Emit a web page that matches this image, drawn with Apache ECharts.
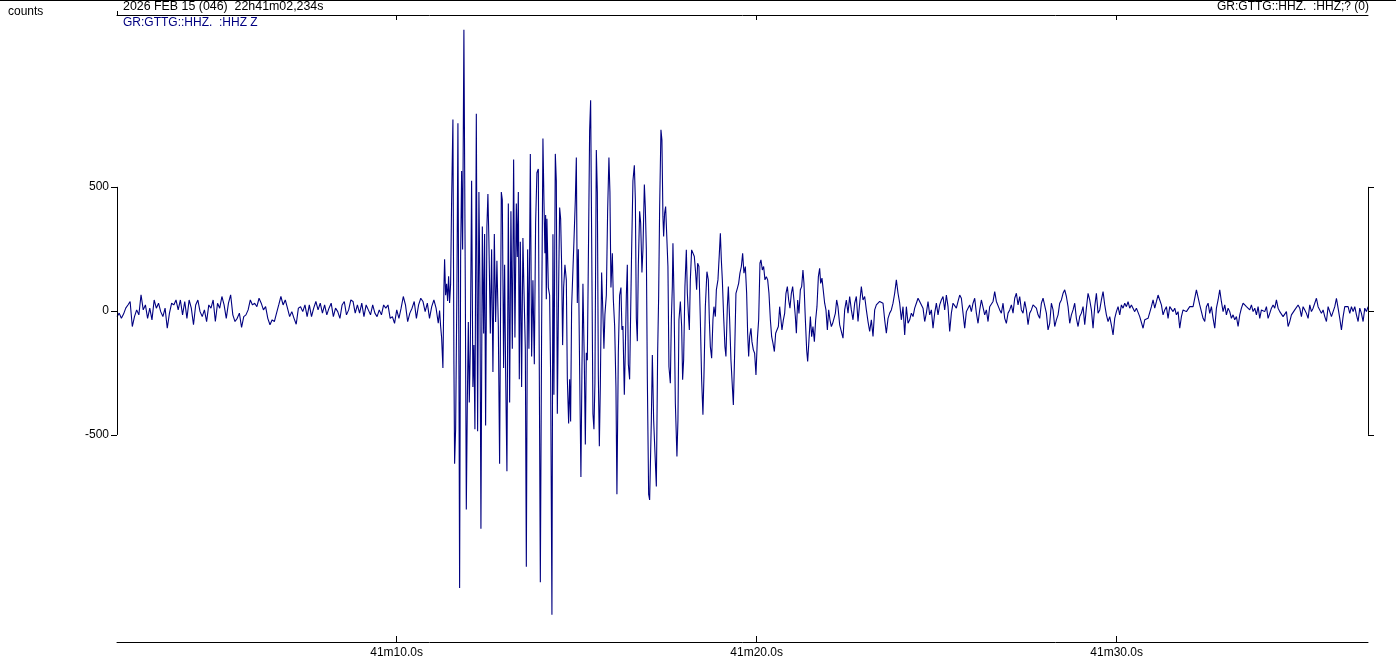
<!DOCTYPE html>
<html>
<head>
<meta charset="utf-8">
<title>GR:GTTG HHZ</title>
<script src="https://cdn.jsdelivr.net/npm/echarts@6/dist/echarts.min.js"></script>
<style>
  html, body { margin: 0; padding: 0; background: #fff; }
  #trace { width: 1396px; height: 662px; }
</style>
</head>
<body>
<div id="trace"></div>
<script>
// time in seconds after 22h41m00s, amplitude in counts

// pre-event noise, evenly sampled
const preStart = 2.234;
const preStep = 0.0607;
const preCounts = [
  -23, -9, -30, -13, 11, 24, 38, -63, -23, 4,
  -16, 65, 4, 24, -30, 11, -36, 44, 11, 31,
  -3, -23, 11, -70, -9, 31, 24, 44, 4, 44,
  -16, 38, -30, 44, 11, -56, 24, 44, -3, -23,
  4, -43, 24, 11, 44, -43, 31, 11, 58, 24,
  -30, 31, 65, -16, -43, -30, -9, -67, -23, -16,
  4, 44, 24, 31, 17, 51, 31, 4, 17, -30,
  -56, -36, -43, -9, 24, 58, 24, 44, 11, -23,
  -3, -30, -54, 11, 17, -3, 24, -23, 24, -23,
  11, 38, 4, 31, -9, 24, -16, 11, 31, -23,
  11, -3, -30, 24, 38, -16, 4, 44, 38, -9,
  24, -9, 31, -23, 24, 4, -16, 24, -9, -23,
  4, -16, 24, 11, 24, -30, -23, -50, 4, -30,
  11, 58, 24, -43, -9, 11, 38, -30, 24, 51,
  38, -3, 31, -30, 17, 44, 11, -50
];

// the event, peak by peak [time, counts]
const eventPoints = [
  [11.194,1],[11.222,-61],[11.250,-107],[11.286,-230],[11.314,94],[11.333,208],[11.361,63],[11.389,109],[11.417,40],[11.444,140],
  [11.472,32],[11.500,109],[11.528,448],[11.564,772],[11.592,-215],[11.611,-616],[11.639,-477],[11.675,94],[11.703,757],[11.731,-215],
  [11.750,-1117],[11.778,217],[11.806,564],[11.833,248],[11.869,1134],[11.908,94],[11.936,-801],[11.964,-369],[11.992,-45],[12.019,-369],
  [12.047,-153],[12.083,525],[12.119,-307],[12.147,-138],[12.175,-477],[12.214,795],[12.250,-485],[12.286,479],[12.314,94],[12.342,-878],
  [12.381,340],[12.417,-91],[12.444,310],[12.472,-462],[12.508,340],[12.536,471],[12.564,279],[12.603,-91],[12.639,248],[12.675,-246],
  [12.714,310],[12.750,-45],[12.786,202],[12.825,-61],[12.861,-616],[12.908,479],[12.936,448],[12.972,-230],[13.000,186],[13.028,-246],
  [13.064,-647],[13.103,433],[13.139,-369],[13.175,402],[13.214,-153],[13.250,610],[13.286,-107],[13.325,433],[13.353,217],[13.381,479],
  [13.408,-276],[13.436,279],[13.472,-307],[13.508,294],[13.536,94],[13.575,-153],[13.603,-1032],[13.639,248],[13.675,-153],[13.714,633],
  [13.750,-184],[13.786,124],[13.825,-215],[13.861,356],[13.897,557],[13.936,572],
  [13.992,-1094],[14.028,-61],[14.064,695],[14.092,448],[14.119,232],[14.139,387],[14.158,47],[14.175,371],[14.214,94],[14.250,63],
  [14.278,-261],[14.314,-1225],[14.342,309],[14.369,-338],[14.408,633],[14.436,525],[14.464,-415],[14.500,94],[14.528,417],[14.556,371],
  [14.583,186],[14.611,-138],[14.639,94],[14.675,186],[14.714,124],[14.742,-276],[14.778,-454],[14.806,-276],[14.833,-446],[14.861,17],
  [14.889,24],[14.925,279],[14.964,448],[14.992,618],[15.019,32],[15.047,248],[15.083,-230],[15.119,-670],[15.147,-246],[15.175,109],
  [15.214,-215],[15.242,-539],[15.269,-169],[15.297,-199],[15.333,310],[15.361,726],[15.389,849],[15.425,140],[15.453,-415],[15.481,-477],
  [15.508,-292],[15.547,649],[15.575,479],[15.603,-261],[15.631,-546],[15.658,-307],[15.694,155],[15.731,-14],[15.758,-153],[15.786,-14],
  [15.825,63],[15.861,402],[15.897,618],[15.925,479],[15.953,94],[15.992,232],[16.019,47],[16.056,-61],[16.092,-307],[16.119,-739],
  [16.158,-169],[16.194,63],[16.231,94],[16.258,-76],[16.286,-61],[16.325,-338],[16.353,-153],[16.381,63],[16.408,186],[16.436,-215],
  [16.472,-276],[16.500,-14],[16.528,248],[16.564,525],[16.603,587],[16.631,448],[16.658,-30],[16.686,-122],[16.714,186],[16.750,402],
  [16.778,356],[16.814,155],[16.842,248],[16.881,510],[16.908,417],[16.936,248],[16.964,-276],[17.000,-739],
  [17.028,-762],[17.075,-440],[17.103,-178],[17.139,-440],[17.175,-440],[17.214,-708],[17.250,-171],[17.278,58],[17.306,421],[17.342,730],
  [17.369,689],[17.397,380],[17.417,300],[17.444,394],[17.472,421],[17.508,427],[17.536,179],[17.564,-225],[17.603,-292],[17.631,-36],
  [17.658,98],[17.675,273],[17.703,71],[17.742,-372],[17.786,-587],[17.814,-440],[17.842,-36],[17.881,38],[17.917,-63],[17.944,-278],
  [17.972,-198],[18.008,98],[18.047,246],[18.075,71],[18.103,-10],[18.131,-77],[18.158,125],[18.194,246],[18.231,253],[18.269,219],
  [18.306,152],[18.333,85],[18.361,192],[18.397,179],[18.436,-36],[18.472,-278],[18.508,-419],[18.536,-265],[18.575,17],[18.619,158],
  [18.658,125],[18.686,-36],[18.714,-144],[18.750,-191],[18.786,-36],[18.814,17],[18.853,-23],[18.881,85],[18.925,125],[18.964,232],
  [18.992,313],[19.019,206],[19.047,125],[19.083,-23],[19.119,-144],[19.147,-184],[19.186,17],[19.214,98],[19.250,-36],[19.286,-198],
  [19.325,-305],[19.353,-379],[19.389,-171],[19.425,71],[19.464,91],[19.500,111],[19.536,152],[19.575,179],[19.611,232],[19.647,152],
  [19.686,179],[19.722,71],[19.750,-90],[19.778,-184],[19.806,-104],[19.842,-70],[19.869,-124],[19.908,-157],[19.944,-171],[19.981,-258],
  [20.019,-117],[20.056,-36],[20.092,192],[20.119,206],[20.158,165],[20.194,179],[20.231,125],[20.269,138],[20.306,125],[20.342,71],
  [20.381,-36],[20.417,-104],[20.453,-130],[20.492,-164],[20.528,-90],[20.564,-97],[20.603,-63],[20.639,17],[20.667,24],[20.703,-77],
  [20.742,-36],[20.778,-10],[20.814,71],[20.853,98],[20.889,44],[20.925,11],[20.964,71],[21.000,98],[21.036,44],[21.075,-23],
  [21.103,-90],[21.139,44],[21.175,-10],[21.214,85],[21.250,98],[21.286,165],[21.314,111],[21.353,-36],[21.389,-157],[21.417,-204],
  [21.453,-117],[21.492,-23],[21.528,-104],[21.564,-63],[21.603,-124],[21.639,-36],[21.675,17],[21.714,138],[21.750,172],[21.778,111],
  [21.814,132],[21.853,138],[21.889,31],[21.925,4],[21.964,-77],[22.000,4],[22.036,-36],[22.075,-63],[22.111,-50],[22.147,-50],
  [22.186,-10],[22.222,44],[22.258,17]
];

// coda noise, evenly sampled
const codaStart = 22.306;
const codaStep = 0.0463;
const codaCounts = [
  -56, -63, -110, 4, 44, -9, 58,
  4, -36, 31, 58, -43, 31, 98, 44, 58, 4,
  -43, -83, -36, -103, 4, 24, 31, 38, 44, 31,
  -36, -90, -30, -9, 4, 31, 71, 125, 71, 31,
  -36, 17, -97, 17, -50, -36, -9, -23, 11, 31,
  51, 38, 31, 11, -43, -9, 38, -16, 4, -70,
  -9, 31, -16, 24, 44, 58, 4, 64, 17, -83,
  -9, 31, 24, 11, 38, 64, 51, -9, -70, -3,
  11, 24, -3, 31, 51, -9, -50, 4, 44, 51,
  -16, 4, -43, 17, 11, 38, 78, 38, 44, 4,
  -9, 31, -30, -50, -9, 4, 24, -9, 51, 71,
  24, 58, 4, -9, 38, 4, -56, -9, 4, 24,
  31, 11, -16, -30, 31, 51, 58, -9, -77, -50,
  31, 4, -63, -36, -16, 31, 44, 71, 85, 58,
  17, -50, -16, 4, 31, -30, -63, -23, -9, 17,
  -56, 11, 71, 44, 4, -70, 17, 71, -9, 4,
  44, 78, 24, -16, -43, -23, -57, -97, -30,
  -3, 17, -16, 24, 11, 31, 17, 37, 11, 24,
  17, -3, 11, 4, -23, -30, -70, -36, -43, -30,
  -23, 17, 44, 11, 37, 64, 44, 24, -16, 4,
  17, -30, 17, 24, -3, 11, -16, -3, -70, -23,
  4, 11, -3, 4, 17, 11, 17, 11, 85, 78,
  24, -3, -30, -43, 17, 31, -10, 17, -30, -70,
  11, 44, 85, 37, -3, 24, -16, 11, -3, -30,
  -16, -36, -23, -63, -16, 11, 31, 37, 17, 24,
  4, 24, -3, 11, -16, 17, -30, 4, 11, -3,
  17, -30, -10, 11, 24, 11, 44, 11, -3, 4,
  -23, -30, -3, -63, -43, -16, -23, 4, 11, 24,
  11, -23, 17, 4, -10, -30, 24, -3, 11, 17,
  51, 17, 11, -10, 4, -23, -43, 17, 11, -23,
  -3, 17, 51, 11, -30, -77, -23, 17, 11, 17,
  -10, 17, -3, 17, -16, -43, 11, -10, -43, 11,
  -3, 17
];

const timeTicks = [10, 20, 30];
const countTicks = [-500, 0, 500];
const timeMin = 2.234;
const timeMax = 36.98;
const countMin = -1335;
const countMax = 1193;

const trace = [];
preCounts.forEach((c, i) => trace.push([preStart + i * preStep, c]));
eventPoints.forEach(p => trace.push(p));
codaCounts.forEach((c, i) => trace.push([codaStart + i * codaStep, c]));

const font = '"Liberation Sans", Arial, sans-serif';
const ink = '#000';

const chart = echarts.init(document.getElementById('trace'));
chart.setOption({
  animation: false,
  backgroundColor: '#fff',
  grid: { left: 117, right: 28, top: 15, bottom: 20 },
  xAxis: [
    {
      type: 'value', position: 'bottom', min: timeMin, max: timeMax,
      splitLine: { show: false },
      axisLine: { onZero: false, lineStyle: { color: ink, width: 1 } },
      axisTick: { inside: true, length: 6, customValues: timeTicks, lineStyle: { color: ink } },
      axisLabel: {
        customValues: timeTicks, margin: 5, color: ink, fontSize: 12, fontFamily: font,
        formatter: v => '41m' + v.toFixed(1) + 's'
      }
    },
    {
      type: 'value', position: 'top', min: timeMin, max: timeMax,
      splitLine: { show: false },
      axisLine: { onZero: false, lineStyle: { color: ink, width: 1 } },
      axisTick: { inside: true, length: 5, customValues: timeTicks, lineStyle: { color: ink } },
      axisLabel: { show: false }
    }
  ],
  yAxis: [
    {
      type: 'value', position: 'left', min: countMin, max: countMax,
      splitLine: { show: false },
      axisLine: { show: false, onZero: false },
      axisTick: { show: true, length: 6, customValues: countTicks, lineStyle: { color: ink } },
      axisLabel: { customValues: countTicks, margin: 8, color: ink, fontSize: 12, fontFamily: font }
    },
    {
      type: 'value', position: 'right', min: countMin, max: countMax,
      splitLine: { show: false },
      axisLine: { show: false, onZero: false },
      axisTick: { show: true, length: 6, customValues: countTicks, lineStyle: { color: ink } },
      axisLabel: { show: false }
    }
  ],
  series: [
    {
      type: 'line',
      data: trace,
      symbol: 'none',
      sampling: null,
      clip: false,
      lineStyle: { color: '#000080', width: 1.1 },
      emphasis: { disabled: true },
      markLine: {
        silent: true,
        animation: false,
        symbol: ['none', 'none'],
        label: { show: false },
        emphasis: { disabled: true },
        lineStyle: { color: ink, width: 1, type: 'solid' },
        data: [
          [{ coord: [timeMin, countTicks[0]] }, { coord: [timeMin, countTicks[2]] }],
          [{ coord: [timeMax, countTicks[0]] }, { coord: [timeMax, countTicks[2]] }]
        ]
      }
    }
  ],
  graphic: [
    { type: 'line', silent: true, shape: { x1: 0, y1: 0.5, x2: 1396, y2: 0.5 }, style: { stroke: ink, lineWidth: 1 } },
    { type: 'line', silent: true, shape: { x1: 117.5, y1: 11, x2: 117.5, y2: 15 }, style: { stroke: ink, lineWidth: 1 } },
    { type: 'text', left: 8, top: 6, style: { text: 'counts', fill: ink, font: '12px ' + font } },
    { type: 'text', left: 123, top: 1, style: { text: '2026 FEB 15 (046)  22h41m02,234s', fill: ink, font: '12.4px ' + font } },
    { type: 'text', left: 123, top: 17, style: { text: 'GR:GTTG::HHZ.  :HHZ Z', fill: '#000080', font: '12px ' + font } },
    { type: 'text', right: 27, top: 1, style: { text: 'GR:GTTG::HHZ.  :HHZ;? (0)', fill: ink, font: '12px ' + font } }
  ]
});
</script>
</body>
</html>
